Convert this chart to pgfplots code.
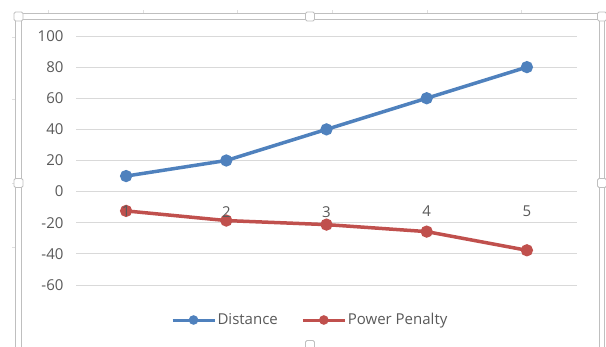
\documentclass[border=0pt]{standalone}
\usepackage{pgfplots}
\pgfplotsset{compat=1.18}
\usepackage{fontspec}
\setmainfont{Open Sans}
\definecolor{exblue}{HTML}{4F81BD}
\definecolor{exred}{HTML}{C0504D}
\definecolor{txt}{HTML}{595959}
\definecolor{grd}{HTML}{D9D9D9}
\definecolor{frm}{HTML}{BFBFBF}
\pgfplotsset{base/.style={
  at={(76pt,62pt)}, anchor=south west,
  scale only axis, width=501pt, height=249pt,
  xmin=0.5, xmax=5.5, ymin=-60, ymax=100,
  xtick={1,2,3,4,5}, ytick={-60,-40,-20,0,20,40,60,80,100},
  axis x line=middle, axis y line=left,
  x axis line style={draw=grd, line width=0.8pt, -},
  y axis line style={draw=none},
  major tick length=0pt,
  tick label style={font=\fontsize{15}{17}\selectfont, text=txt},
  /pgf/number format/assume math mode=true,
  yticklabel style={xshift=-9pt},
  xticklabel style={yshift=-11pt},
  clip=false}}
\begin{document}
\begin{tikzpicture}[x=1pt,y=1pt]
\path[use as bounding box] (0,0) rectangle (606,347);
% spreadsheet cell marks
\foreach \xx in {48,143,237,332,427,521} \draw[frm!50] (\xx,333) -- (\xx,337);
\foreach \yy in {310,248,164,100} \draw[frm!50] (12,\yy) -- (16,\yy);
% chart frame (selected chart)
\draw[frm, line width=0.8pt, double=white, double distance=4.5pt] (18.5,-10) -- (18.5,330.5) -- (602,330.5) -- (602,-10);
\begin{axis}[base,
  xticklabels={},
  ymajorgrids, grid style={grd, line width=0.8pt},
  legend style={draw=none, fill=none, font=\fontsize{15}{17}\selectfont, text=txt,
    at={(rel axis cs:0.467,-0.1406)}, anchor=center, legend columns=2,
    /tikz/every even column/.append style={column sep=22pt},
    nodes={inner sep=1.5pt},
    inner sep=0pt, cells={anchor=west}},
  legend image code/.code={\draw[mark repeat=2,mark phase=2, line width=3pt, mark size=3.2pt] plot coordinates {(0pt,0pt) (21pt,0pt) (42pt,0pt)};},
]
\addplot[exblue, line width=3.5pt, mark=*, mark size=4.3pt] coordinates {(1,10) (2,20) (3,40) (4,60) (5,80)};
\addlegendentry{Distance}
\addplot[exred, line width=3.5pt, mark=*, mark size=4.3pt] coordinates {(1,-12.4) (2,-18.6) (3,-21.2) (4,-25.7) (5,-37.7)};
\addlegendentry{Power Penalty}
\end{axis}
% overlay axis carrying only the category labels, drawn above the series
\begin{axis}[base, ytick=\empty, x axis line style={draw=none}]
\end{axis}
% handles
\foreach \p in {(18.5,330.5),(310,330.5),(602,330.5),(18.5,164),(602,164),(310,2)}
  \draw[frm, fill=white, line width=0.8pt, rounded corners=1.5pt] \p ++(-4.5,-4.5) rectangle ++(9,9);
\end{tikzpicture}
\end{document}
